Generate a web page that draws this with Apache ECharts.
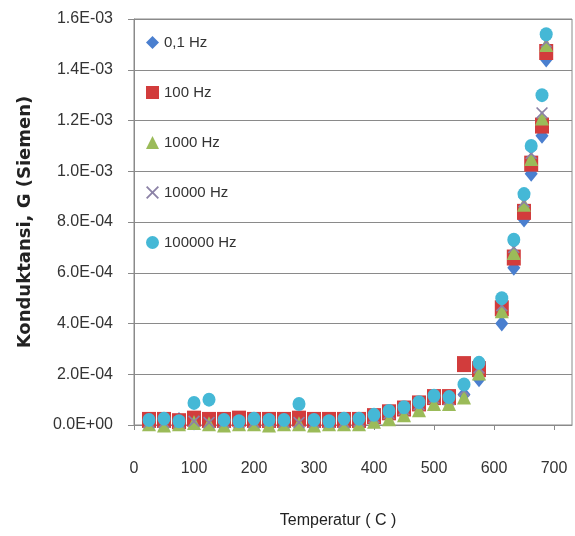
<!DOCTYPE html>
<html>
<head>
<meta charset="utf-8">
<script src="https://cdn.jsdelivr.net/npm/echarts@6/dist/echarts.min.js"></script>
<style>html,body{margin:0;padding:0;background:#fff;}#c{width:575px;height:536px;}</style>
</head>
<body>
<div id="c"></div>
<script>
// Temperature (°C)
const temps = [25,50,75,100,125,150,175,200,225,250,275,300,325,350,375,400,425,450,475,500,525,550,575,613,633,650,662,680,687];
// Conductance G (Siemen) per frequency
const g01Hz = [1.5e-5,1.0e-5,2.0e-5,1.0e-5,1.5e-5,1.0e-5,2.0e-5,1.5e-5,1.0e-5,1.5e-5,2.0e-5,1.0e-5,1.5e-5,2.0e-5,1.5e-5,3.0e-5,4.0e-5,5.5e-5,7.5e-5,1.0e-4,1.0e-4,1.2e-4,1.8e-4,4.0e-4,6.2e-4,8.1e-4,9.9e-4,1.14e-3,1.44e-3];
const g100Hz = [2.0e-5,2.0e-5,1.5e-5,2.5e-5,2.0e-5,2.0e-5,2.5e-5,2.0e-5,2.0e-5,2.0e-5,2.5e-5,2.0e-5,2.0e-5,2.0e-5,2.0e-5,3.5e-5,5.0e-5,6.5e-5,8.5e-5,1.1e-4,1.1e-4,2.4e-4,2.2e-4,4.6e-4,6.6e-4,8.4e-4,1.03e-3,1.18e-3,1.47e-3];
const g1000Hz = [5.0e-6,0,5.0e-6,1.0e-5,5.0e-6,0,5.0e-6,5.0e-6,0,5.0e-6,5.0e-6,0,5.0e-6,5.0e-6,5.0e-6,1.5e-5,2.5e-5,4.0e-5,6.0e-5,8.5e-5,8.5e-5,1.1e-4,2.05e-4,4.5e-4,6.8e-4,8.7e-4,1.05e-3,1.21e-3,1.50e-3];
const g10000Hz = [1.0e-5,1.0e-5,1.0e-5,1.5e-5,1.0e-5,1.0e-5,1.0e-5,1.0e-5,1.5e-5,1.0e-5,1.0e-5,1.0e-5,1.0e-5,1.0e-5,1.5e-5,3.0e-5,4.5e-5,6.0e-5,8.0e-5,1.05e-4,1.0e-4,1.35e-4,2.25e-4,4.7e-4,7.0e-4,8.8e-4,1.07e-3,1.23e-3,1.51e-3];
const g100000Hz = [2.0e-5,2.5e-5,1.5e-5,8.7e-5,1.0e-4,2.0e-5,1.5e-5,2.5e-5,2.0e-5,2.0e-5,8.3e-5,2.0e-5,1.5e-5,2.5e-5,2.5e-5,4.0e-5,5.5e-5,7.0e-5,9.0e-5,1.15e-4,1.1e-4,1.6e-4,2.45e-4,5.0e-4,7.3e-4,9.1e-4,1.10e-3,1.30e-3,1.54e-3];
const seriesNames = ['0,1 Hz','100 Hz','1000 Hz','10000 Hz','100000 Hz'];
const yTickLabels = ['0.0E+00','2.0E-04','4.0E-04','6.0E-04','8.0E-04','1.0E-03','1.2E-03','1.4E-03','1.6E-03'];
const xTickLabels = ['0','100','200','300','400','500','600','700'];

const allValues = [g01Hz, g100Hz, g1000Hz, g10000Hz, g100000Hz];
const colors = ['#4a7fcf','#d23c3c','#9bbb59','#8c82a6','#45b8d6'];
const symbols = ['diamond','rect','triangle',
  'path://M0,1 L1,0 L5,4 L9,0 L10,1 L6,5 L10,9 L9,10 L5,6 L1,10 L0,9 L4,5 Z','circle'];
const sizes = [[13,16],[14,16],[14,15],[12,12],[13,14]];

const chart = echarts.init(document.getElementById('c'), null, {renderer:'canvas'});
const font = '"Liberation Sans", Arial, sans-serif';
chart.setOption({
  animation: false,
  backgroundColor: '#fff',
  grid: {left: 134, top: 19, right: 3, bottom: 111, show: true, borderColor: '#8a8a8a', borderWidth: 1},
  legend: {
    orient: 'vertical', left: 141, top: 30, itemWidth: 13, itemHeight: 13, itemGap: 35,
    textStyle: {fontFamily: font, fontSize: 15, color: '#333'},
    data: seriesNames
  },
  xAxis: {
    type: 'value', min: 0, max: 730, interval: 100,
    name: 'Temperatur ( C )', nameLocation: 'middle', nameGap: 88,
    nameTextStyle: {fontFamily: font, fontSize: 16, color: '#222', padding: [0, 30, 0, 0]},
    axisLine: {show: true, lineStyle: {color: '#8a8a8a'}},
    axisTick: {show: true, inside: false, length: 5, lineStyle: {color: '#8a8a8a'}},
    splitLine: {show: false},
    axisLabel: {margin: 36, fontFamily: font, fontSize: 16, color: '#333', showMaxLabel: false,
      formatter: v => xTickLabels[Math.round(v/100)] ?? ''}
  },
  yAxis: {
    type: 'value', min: 0, max: 0.0016, interval: 0.0002,
    name: 'Konduktansi, G (Siemen)', nameLocation: 'middle', nameGap: 100,
    nameTextStyle: {fontFamily: '"DejaVu Sans", sans-serif', fontWeight: 'bold', fontSize: 18, color: '#222'},
    axisLine: {show: true, lineStyle: {color: '#8a8a8a'}},
    axisTick: {show: true, inside: false, length: 6, lineStyle: {color: '#8a8a8a'}},
    splitLine: {show: true, lineStyle: {color: '#8a8a8a', width: 1}},
    axisLabel: {margin: 21, fontFamily: font, fontSize: 16, color: '#333',
      formatter: v => yTickLabels[Math.round(v/0.0002)] ?? ''}
  },
  series: seriesNames.map((name, i) => ({
    name, type: 'scatter',
    symbol: symbols[i], symbolSize: sizes[i],
    itemStyle: {color: colors[i], opacity: 1},
    z: 2 + i,
    data: temps.map((t, k) => [t, allValues[i][k]])
  }))
});
</script>
</body>
</html>
